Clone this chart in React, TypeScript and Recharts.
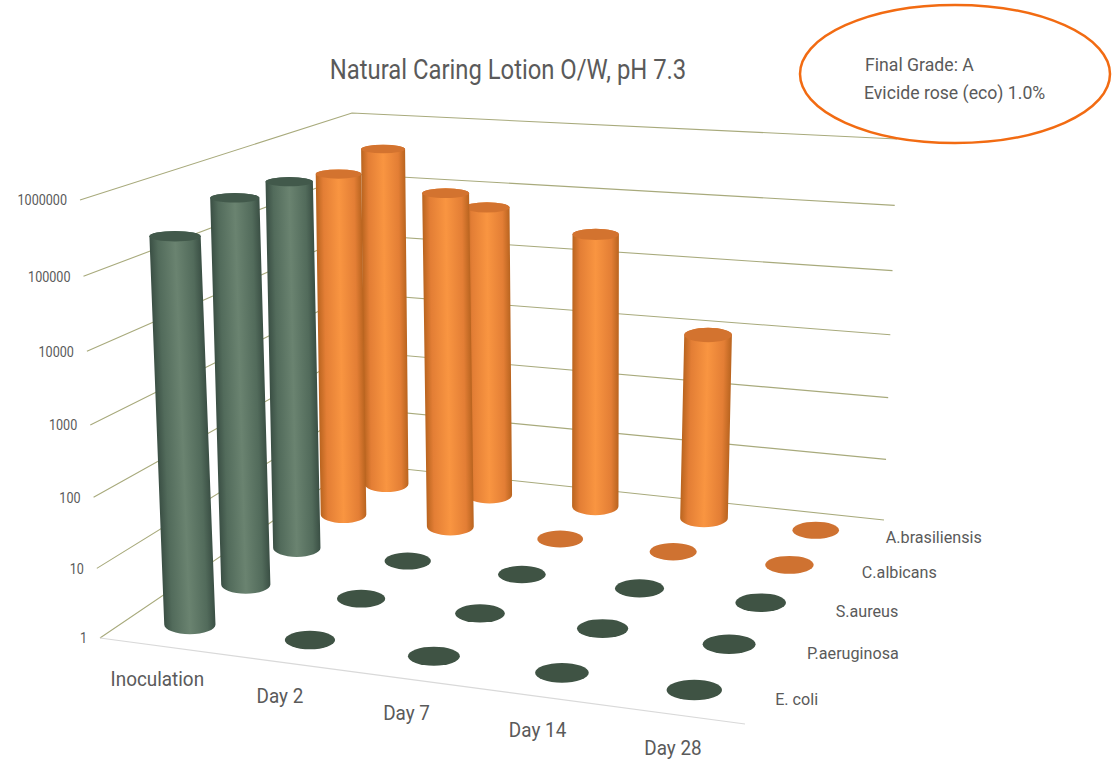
import React from 'react';
import { ScatterChart, Scatter, XAxis, YAxis } from 'recharts';

const WIDTH = 1112;
const HEIGHT = 765;
const FONT = 'Roboto, sans-serif';
const TEXT = '#5a5a5a';

const title = 'Natural Caring Lotion O/W, pH 7.3';
const noteLines = ['Final Grade: A', 'Evicide rose (eco) 1.0%'];
const days = ['Inoculation', 'Day 2', 'Day 7', 'Day 14', 'Day 28'];
const tickValues = [1, 10, 100, 1000, 10000, 100000, 1000000];

// CFU counts per organism; 1 marks "nothing recovered" and sits flat on the floor.
const eColi = [270000, 1, 1, 1, 1];
const pAeruginosa = [450000, 1, 1, 1, 1];
const sAureus = [400000, 1, 1, 1, 1];
const cAlbicans = [280000, 180000, 1, 1, 1];
const aBrasiliensis = [380000, 56000, 27000, 950, 1];

// Front-to-back order along the depth axis.
const organisms = [
  { name: 'E. coli', values: eColi, palette: 'green' },
  { name: 'P.aeruginosa', values: pAeruginosa, palette: 'green' },
  { name: 'S.aureus', values: sAureus, palette: 'green' },
  { name: 'C.albicans', values: cAlbicans, palette: 'orange' },
  { name: 'A.brasiliensis', values: aBrasiliensis, palette: 'orange' },
];

type Pt = [number, number];

// Corners of the floor and ceiling planes: front-left, front-right, back-right, back-left.
const floorQuad: Pt[] = [[100, 638], [745, 724], [884, 520], [357, 464]];
const ceilingQuad: Pt[] = [[80, 200], [753, 254], [897, 139], [352, 113]];

// Cylinders lean a little less than the walls do (pixels per decade, growing with the day column).
const barLean = (u: number) => 0.5 + 0.4 * u;

function quadMap(q: Pt[]) {
  const [[x0, y0], [x1, y1], [x2, y2], [x3, y3]] = q;
  const dx1 = x1 - x2, dx2 = x3 - x2, sx = x0 - x1 + x2 - x3;
  const dy1 = y1 - y2, dy2 = y3 - y2, sy = y0 - y1 + y2 - y3;
  const den = dx1 * dy2 - dx2 * dy1;
  const g = (sx * dy2 - dx2 * sy) / den;
  const h = (dx1 * sy - sx * dy1) / den;
  const a = x1 - x0 + g * x1, b = x3 - x0 + h * x3;
  const d = y1 - y0 + g * y1, e = y3 - y0 + h * y3;
  return (s: number, t: number): Pt => {
    const w = g * s + h * t + 1;
    return [(a * s + b * t + x0) / w, (d * s + e * t + y0) / w];
  };
}

const floorAt = quadMap(floorQuad);
const ceilingAt = quadMap(ceilingQuad);
const COLS = days.length;
const ROWS = organisms.length;
const DECADES = tickValues.length - 1;

// u: day position, v: organism depth, value: count on the log scale.
function project(u: number, v: number, value: number): Pt {
  const t = Math.log10(value) / DECADES;
  const k = t - 0.055 * t * (1 - t);
  const a = floorAt(u / COLS, v / ROWS);
  const b = ceilingAt(u / COLS, v / ROWS);
  return [a[0] + (b[0] - a[0]) * k, a[1] + (b[1] - a[1]) * k];
}

const barRows = organisms.map((org, v) => ({
  ...org,
  points: org.values.map((value, u) => {
    const [x, y] = project(u + 0.5, v + 0.5, 1);
    const [topX, topY] = project(u + 0.5, v + 0.5, value);
    const l = project(u, v + 0.5, 1);
    const r = project(u + 1, v + 0.5, 1);
    return {
      x,
      y,
      topX: topX + barLean(u + 0.5) * Math.log10(value),
      topY,
      value,
      rx: 0.215 * Math.hypot(r[0] - l[0], r[1] - l[1]),
      id: `${v}-${u}`,
    };
  }),
}));

const wallLines = tickValues.map((tick) =>
  [project(0, 0, tick), project(0, ROWS, tick), project(COLS, ROWS, tick)].map(([x, y]) => ({ x, y })),
);
const frontEdge = [project(0, 0, 1), project(COLS, 0, 1)].map(([x, y]) => ({ x, y }));

const tickLabels = tickValues.map((tick) => {
  const [x, y] = project(0, 0, tick);
  return { x: x - 13, y: y + 0.5, text: String(tick), anchor: 'end', size: 14, squeeze: 0.9 };
});
const dayLabels = days.map((text, u) => {
  const [x, y] = project(u + 0.5, 0, 1);
  return { x: x - 2.5, y: y + 33, text, anchor: 'middle', size: 21, squeeze: 0.9 };
});
const organismLabels = organisms.map((org, v) => {
  const [x, y] = project(COLS, v + 0.5, 1);
  return { x: x + 13, y: y + 1, text: org.name, anchor: 'start', size: 17, squeeze: 0.95 };
});
const headerLabels = [
  { x: 508, y: 69.5, text: title, anchor: 'middle', size: 27, squeeze: 0.883 },
  { x: 865, y: 64, text: noteLines[0], anchor: 'start', size: 19, squeeze: 0.93 },
  { x: 864, y: 92, text: noteLines[1], anchor: 'start', size: 19, squeeze: 0.93 },
];
const allLabels = [...tickLabels, ...dayLabels, ...organismLabels, ...headerLabels];
const noteOutline = [{ x: 955, y: 74 }];

const palettes: Record<string, { top: string; flat: string; edge: string; mid: string; light: string }> = {
  green: { top: '#42594b', flat: '#3f5344', edge: '#3a4f44', mid: '#526b5b', light: '#6a8370' },
  orange: { top: '#d3732f', flat: '#cf7231', edge: '#b9641f', mid: '#e37e35', light: '#f99541' },
};

function Cylinder(props: any, paletteName: string) {
  const { cx, cy, payload } = props;
  const p = palettes[paletteName];
  const { rx, value, id } = payload;
  const logValue = Math.log10(value);
  if (logValue <= 0) {
    return <ellipse cx={cx} cy={cy} rx={rx * 0.95} ry={rx * 0.35} fill={p.flat} />;
  }
  const baseRy = rx * 0.38;
  const tx = cx + payload.topX - payload.x;
  const ty = cy + payload.topY - payload.y;
  const topRy = rx * (0.42 - 0.04 * logValue);
  // Shade across the cylinder, square to its slightly leaning axis.
  const len = Math.hypot(tx - cx, ty - cy);
  const nx = ((cy - ty) / len) * rx;
  const ny = ((tx - cx) / len) * rx;
  const mx = (tx + cx) / 2;
  const my = (ty + cy) / 2;
  const body =
    `M${tx - rx},${ty} L${cx - rx},${cy} A${rx},${baseRy} 0 0 0 ${cx + rx},${cy} ` +
    `L${tx + rx},${ty} A${rx},${topRy} 0 0 0 ${tx - rx},${ty} Z`;
  return (
    <g>
      <defs>
        <linearGradient
          id={`cyl-${id}`}
          gradientUnits="userSpaceOnUse"
          x1={mx - nx}
          y1={my - ny}
          x2={mx + nx}
          y2={my + ny}
        >
          <stop offset="0" stopColor={p.edge} />
          <stop offset="0.16" stopColor={p.mid} />
          <stop offset="0.5" stopColor={p.light} />
          <stop offset="0.84" stopColor={p.mid} />
          <stop offset="1" stopColor={p.edge} />
        </linearGradient>
      </defs>
      <path d={body} fill={`url(#cyl-${id})`} />
      <ellipse cx={tx} cy={ty} rx={rx} ry={topRy} fill={p.top} />
    </g>
  );
}

function LabelMark(props: any) {
  const { cx, cy, payload } = props;
  return (
    <text
      transform={`translate(${cx},${cy}) scale(${payload.squeeze},1)`}
      textAnchor={payload.anchor}
      dominantBaseline="central"
      fontFamily={FONT}
      fontSize={payload.size}
      fill={TEXT}
    >
      {payload.text}
    </text>
  );
}

const noMark = () => <g />;

export default function App() {
  return (
    <div style={{ position: 'absolute', left: 0, top: 0, background: '#fff' }}>
      <ScatterChart width={WIDTH} height={HEIGHT} margin={{ top: 0, right: 0, bottom: 0, left: 0 }}>
        <XAxis type="number" dataKey="x" domain={[0, WIDTH]} hide />
        <YAxis type="number" dataKey="y" domain={[0, HEIGHT]} reversed hide />

        {wallLines.map((line, i) => (
          <Scatter
            key={tickValues[i]}
            data={line}
            line={{ stroke: '#a8aa7c', strokeWidth: 1.1 }}
            lineType="joint"
            shape={noMark}
            isAnimationActive={false}
          />
        ))}
        <Scatter
          data={frontEdge}
          line={{ stroke: '#d9d9d9', strokeWidth: 1.2 }}
          lineType="joint"
          shape={noMark}
          isAnimationActive={false}
        />

        {[...barRows].reverse().map((row) => (
          <Scatter
            key={row.name}
            name={row.name}
            data={row.points}
            shape={(p: any) => Cylinder(p, row.palette)}
            isAnimationActive={false}
          />
        ))}

        <Scatter data={allLabels} shape={LabelMark} isAnimationActive={false} />
        <Scatter
          data={noteOutline}
          shape={(p: any) => (
            <ellipse cx={p.cx} cy={p.cy} rx={155} ry={69} fill="none" stroke="#f26b12" strokeWidth={2.5} />
          )}
          isAnimationActive={false}
        />
      </ScatterChart>
    </div>
  );
}
